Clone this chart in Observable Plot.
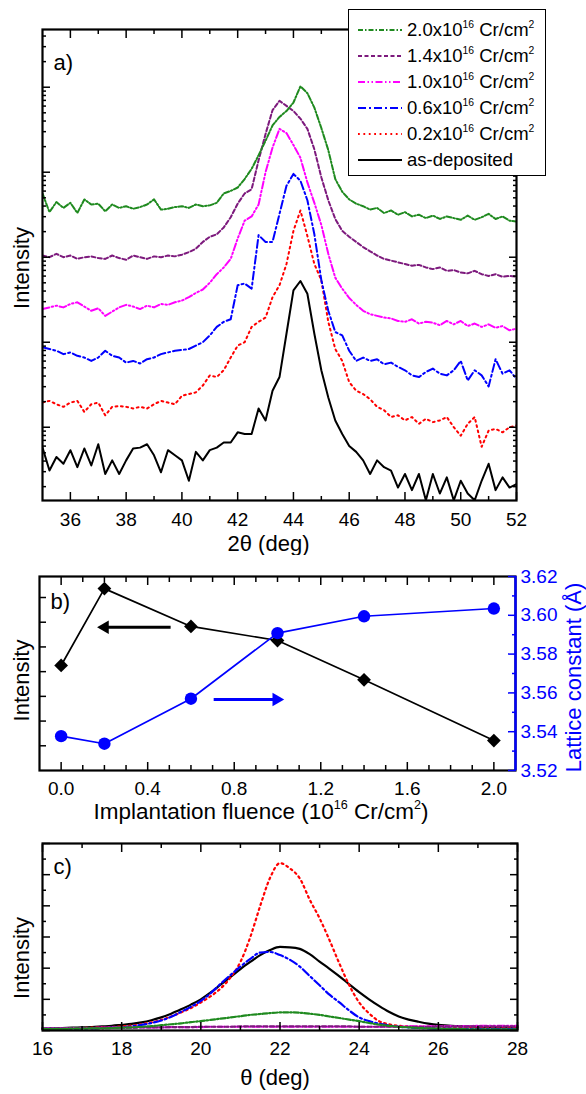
<!DOCTYPE html>
<html><head><meta charset="utf-8">
<script src="https://cdn.jsdelivr.net/npm/d3@7"></script>
<script src="https://cdn.jsdelivr.net/npm/@observablehq/plot@0.6"></script>
<style>
body{margin:0;background:#fff;}
#wrap{position:relative;width:586px;height:1094px;font-family:"Liberation Sans",Arial,Helvetica,sans-serif;color:#000;overflow:hidden;background:#fff}
.panel{position:absolute;left:0}
.legend{position:absolute;left:348px;top:9px;width:198px;height:167px;border:1.5px solid #000;background:#fff;box-sizing:border-box;z-index:4}
.lrow{position:absolute;left:0;height:20px;width:196px}
.lrow svg{position:absolute;left:9px;top:5px}
.lrow span{position:absolute;left:58px;top:0;font-size:18.5px;line-height:20px;white-space:nowrap}
sup{font-size:0.56em;vertical-align:0;position:relative;top:-0.8em}
.title{position:absolute;font-size:22.5px;line-height:1;white-space:nowrap;transform:translate(-50%,-50%);z-index:5}
</style></head><body><div id="wrap"></div>
<script>
const FONT = '"Liberation Sans", Arial, Helvetica, sans-serif';

// ---------- Panel a : XRD scans, log10(intensity) ----------
const twoTheta = [35,35.25,35.5,35.75,36,36.25,36.5,36.75,37,37.25,37.5,37.75,38,38.25,38.5,38.75,39,39.25,39.5,39.75,40,40.25,40.5,40.75,41,41.25,41.5,41.75,42,42.25,42.5,42.75,43,43.25,43.5,43.75,44,44.25,44.5,44.75,45,45.25,45.5,45.75,46,46.25,46.5,46.75,47,47.25,47.5,47.75,48,48.25,48.5,48.75,49,49.25,49.5,49.75,50,50.25,50.5,50.75,51,51.25,51.5,51.75,52];
const logI_20 = [2.75,2.53,2.65,2.58,2.64,2.52,2.68,2.62,2.63,2.54,2.62,2.58,2.60,2.57,2.59,2.62,2.68,2.56,2.57,2.59,2.60,
  2.58,2.62,2.60,2.61,2.64,2.75,2.78,2.82,2.92,3.04,3.20,3.37,3.55,3.65,3.72,3.82,4.01,3.93,3.76,3.52,
  3.26,2.92,2.77,2.68,2.63,2.60,2.56,2.58,2.52,2.55,2.50,2.53,2.48,2.50,2.46,2.49,2.45,2.48,2.46,2.44,2.49,2.44,2.47,2.51,2.45,2.48,2.43,2.42];
const logI_14 = [2.02,2.00,2.04,2.00,2.02,1.98,2.00,2.01,1.99,1.98,2.02,1.99,1.97,2.02,2.00,1.98,2.01,2.00,2.02,2.01,2.03,
  2.06,2.10,2.18,2.24,2.27,2.35,2.47,2.63,2.75,2.80,3.14,3.45,3.73,3.84,3.78,3.72,3.63,3.51,3.27,2.94,
  2.67,2.45,2.31,2.24,2.18,2.12,2.07,2.02,1.98,1.96,1.94,1.92,1.90,1.91,1.88,1.86,1.88,1.84,1.85,1.82,1.81,1.84,1.80,1.78,1.80,1.77,1.78,1.77];
const logI_10 = [1.39,1.41,1.43,1.41,1.45,1.47,1.42,1.37,1.40,1.31,1.36,1.41,1.44,1.42,1.39,1.43,1.41,1.45,1.44,1.47,1.49,
  1.53,1.58,1.62,1.70,1.80,1.88,1.98,2.22,2.43,2.48,2.62,3.00,3.29,3.51,3.46,3.32,3.17,2.88,2.64,2.38,
  2.04,1.76,1.63,1.52,1.44,1.37,1.33,1.31,1.29,1.28,1.25,1.24,1.27,1.22,1.24,1.23,1.20,1.25,1.21,1.25,1.19,1.22,1.18,1.21,1.17,1.19,1.14,1.16];
const logI_06 = [0.94,0.92,0.90,0.86,0.88,0.84,0.82,0.78,0.82,0.90,0.84,0.82,0.76,0.78,0.75,0.80,0.82,0.86,0.88,0.90,0.91,
  0.92,0.96,1.00,1.08,1.18,1.24,1.27,1.67,1.69,1.63,2.26,2.18,2.18,2.51,2.84,2.98,2.90,2.67,2.27,1.73,
  1.37,1.12,1.08,0.90,0.78,0.82,0.78,0.80,0.74,0.76,0.71,0.67,0.61,0.59,0.65,0.69,0.63,0.61,0.67,0.78,0.55,0.67,0.61,0.48,0.80,0.63,0.67,0.57];
const logI_02 = [0.29,0.31,0.27,0.24,0.29,0.31,0.18,0.27,0.29,0.14,0.24,0.25,0.24,0.22,0.24,0.22,0.27,0.31,0.29,0.27,0.37,
  0.39,0.41,0.49,0.61,0.59,0.67,0.82,0.96,1.00,1.18,1.24,1.29,1.53,1.67,1.92,2.31,2.55,2.25,1.92,1.73,
  1.24,0.92,0.78,0.53,0.43,0.39,0.33,0.24,0.20,0.12,0.14,0.08,0.12,0.04,0.10,0.06,0.08,0.12,0.00,-0.10,0.04,0.12,-0.23,-0.04,-0.02,-0.06,0.00,0.02];
const logI_asdep = [-0.24,-0.51,-0.35,-0.43,-0.27,-0.47,-0.25,-0.45,-0.20,-0.55,-0.39,-0.55,-0.39,-0.25,-0.24,-0.20,-0.33,-0.53,-0.27,-0.33,-0.39,
  -0.63,-0.29,-0.39,-0.27,-0.24,-0.18,-0.18,-0.06,-0.08,-0.08,0.22,0.08,0.43,0.59,1.10,1.61,1.72,1.57,1.10,0.67,
  0.35,0.08,-0.08,-0.22,-0.29,-0.39,-0.55,-0.39,-0.47,-0.51,-0.71,-0.55,-0.74,-0.55,-0.86,-0.55,-0.78,-0.59,-0.86,-0.63,-0.78,-0.86,-0.63,-0.43,-0.74,-0.59,-0.71,-0.67];
const aXTicks = [36,38,40,42,44,46,48,50,52];
const aXMinor = [37,39,41,43,45,47,49,51];
const aDecades = [0,1,2,3,4];
const aLogDomain = [-0.862, 4.679];

// ---------- Panel b ----------
const fluence = [0.0,0.2,0.6,1.0,1.4,2.0];
const bIntensity = [4.25,7.36,5.83,5.26,3.67,1.21];
const bLattice = [3.5377,3.5338,3.557,3.5908,3.5995,3.6035];
const bXTicks = [0.0,0.4,0.8,1.2,1.6,2.0];
const bLatTicks = [3.52,3.54,3.56,3.58,3.60,3.62];
const bLatMinor = [3.53,3.55,3.57,3.59,3.61];
const bIntTicks = [1,2,3,4,5,6,7];
const bXDomain = [-0.1, 2.1];
const bIntDomain = [0, 7.85];
const bLatDomain = [3.52, 3.62];
const bArrowLeft = {x1: 0.506, x2: 0.215, tip: 0.202, y: 5.80};
const bArrowRight = {x1: 0.705, x2: 0.985, tip: 0.995, lat: 3.5566};

// ---------- Panel c : rocking curves ----------
const theta = [16,16.25,16.5,16.75,17,17.25,17.5,17.75,18,18.25,18.5,18.75,19,19.25,19.5,19.75,20,20.25,20.5,20.75,21,21.25,21.5,21.75,22,22.25,22.5,22.75,23,23.25,23.5,23.75,24,24.25,24.5,24.75,25,25.25,25.5,25.75,26,26.25,26.5,26.75,27,27.25,27.5,27.75,28];
const rc_02 = [0.06,0.06,0.07,0.07,0.08,0.09,0.10,0.11,0.13,0.16,0.20,0.26,0.34,0.45,0.58,0.72,0.90,1.10,1.35,1.70,2.20,3.00,4.00,4.90,5.37,5.20,4.88,4.20,3.60,2.90,2.15,1.45,0.90,0.55,0.30,0.20,0.15,0.13,0.12,0.12,0.12,0.11,0.11,0.11,0.10,0.10,0.10,0.10,0.10];
const rc_asdep = [0.07,0.07,0.08,0.09,0.10,0.11,0.13,0.15,0.18,0.21,0.26,0.33,0.42,0.54,0.68,0.83,1.00,1.22,1.47,1.72,1.97,2.20,2.42,2.58,2.68,2.67,2.62,2.45,2.21,1.98,1.74,1.48,1.23,1.00,0.79,0.60,0.45,0.35,0.28,0.22,0.18,0.16,0.14,0.13,0.12,0.11,0.10,0.10,0.09];
const rc_06 = [0.06,0.06,0.06,0.06,0.07,0.07,0.08,0.09,0.10,0.13,0.18,0.24,0.32,0.44,0.60,0.76,0.95,1.20,1.50,1.78,2.05,2.30,2.50,2.52,2.42,2.27,2.05,1.75,1.45,1.15,0.90,0.64,0.42,0.30,0.22,0.16,0.12,0.10,0.08,0.07,0.06,0.06,0.05,0.05,0.05,0.05,0.05,0.05,0.05];
const rc_20 = [0.05,0.05,0.05,0.06,0.06,0.07,0.07,0.08,0.09,0.10,0.12,0.14,0.17,0.20,0.23,0.27,0.30,0.34,0.38,0.42,0.46,0.50,0.53,0.56,0.58,0.58,0.57,0.54,0.50,0.45,0.40,0.35,0.30,0.24,0.19,0.15,0.12,0.10,0.08,0.07,0.06,0.05,0.05,0.04,0.04,0.04,0.04,0.04,0.04];
const rc_10 = [0.07,0.07,0.07,0.08,0.08,0.08,0.09,0.09,0.09,0.10,0.10,0.10,0.10,0.11,0.11,0.11,0.11,0.12,0.12,0.12,0.12,0.12,0.12,0.12,0.12,0.12,0.12,0.12,0.12,0.12,0.12,0.12,0.12,0.12,0.12,0.12,0.12,0.13,0.13,0.13,0.14,0.14,0.14,0.14,0.15,0.15,0.15,0.15,0.15];
const rc_14 = [0.06,0.06,0.07,0.07,0.08,0.08,0.08,0.09,0.09,0.09,0.10,0.10,0.10,0.11,0.11,0.11,0.12,0.12,0.12,0.12,0.13,0.13,0.13,0.13,0.13,0.13,0.13,0.13,0.13,0.13,0.13,0.13,0.12,0.12,0.12,0.12,0.12,0.12,0.12,0.12,0.13,0.13,0.13,0.13,0.13,0.13,0.13,0.13,0.13];
const cXTicks = [16,18,20,22,24,26,28];
const cXMinor = [17,19,21,23,25,27];
const cYTicks = [0,1,2,3,4,5,6];
const cYMinor = [0.5,1.5,2.5,3.5,4.5,5.5];
const cYDomain = [0, 6];

// ---------- series styling ----------
const seriesStyle = [
  {key:"2.0", a: logI_20, c: rc_20, color:"#1f8a1f", dash:"5,2,1.5,2"},
  {key:"1.4", a: logI_14, c: rc_14, color:"#7d1a7d", dash:"4,2.5"},
  {key:"1.0", a: logI_10, c: rc_10, color:"#ff00ff", dash:"7,2.5,1.5,2.5,1.5,2.5"},
  {key:"0.6", a: logI_06, c: rc_06, color:"#0000ff", dash:"8,3,2,3"},
  {key:"0.2", a: logI_02, c: rc_02, color:"#ff0000", dash:"1.8,3.6"},
  {key:"as-deposited", a: logI_asdep, c: rc_asdep, color:"#000000", dash:null}
];
seriesStyle.forEach(s => { if (s.a.length !== twoTheta.length || s.c.length !== theta.length) console.error("length mismatch", s.key, s.a.length, s.c.length); });

const wrap = document.getElementById("wrap");
function place(svg, top) { const d = document.createElement("div"); d.className = "panel"; d.style.top = top + "px"; d.appendChild(svg); wrap.appendChild(d); }
const blank = () => "";
const TW = 1.5;
const TICKFS = 19;
const TITLEFS = 22;

// ===== Panel a =====
{
  const yLo = 10 ** aLogDomain[0], yHi = 10 ** aLogDomain[1];
  const majorY = aDecades.map(n => 10 ** n);
  const minorY = d3.range(-1, 5).flatMap(n => d3.range(2, 10).map(k => k * 10 ** n)).filter(v => v > yLo && v < yHi);
  const lines = seriesStyle.slice().reverse().map(s =>
    Plot.line(s.a.map((d, i) => ({x: twoTheta[i], y: 10 ** d})), {x: "x", y: "y", stroke: s.color, strokeWidth: 2, strokeDasharray: s.dash, clip: true}));
  const svg = Plot.plot({
    width: 586, height: 555, marginLeft: 42, marginRight: 70, marginTop: 29, marginBottom: 55,
    style: {fontFamily: FONT, background: "transparent", color: "black"},
    x: {domain: [35, 52], label: null},
    y: {type: "log", domain: [yLo, yHi], label: null},
    marks: [
      ...lines,
      Plot.axisX(aXTicks, {anchor: "bottom", tickSize: 0, tickPadding: 12, fontSize: TICKFS, label: null}),
      Plot.axisX(aXTicks, {anchor: "bottom", tickSize: -8, tickFormat: blank, label: null, strokeWidth: TW}),
      Plot.axisX(aXMinor, {anchor: "bottom", tickSize: -4, tickFormat: blank, label: null, strokeWidth: TW}),
      Plot.axisX(aXTicks, {anchor: "top", tickSize: -8, tickFormat: blank, label: null, strokeWidth: TW}),
      Plot.axisX(aXMinor, {anchor: "top", tickSize: -4, tickFormat: blank, label: null, strokeWidth: TW}),
      Plot.axisY(majorY, {anchor: "left", tickSize: -8, tickFormat: blank, label: null, strokeWidth: TW}),
      Plot.axisY(minorY, {anchor: "left", tickSize: -4, tickFormat: blank, label: null, strokeWidth: TW}),
      Plot.axisY(majorY, {anchor: "right", tickSize: -8, tickFormat: blank, label: null, strokeWidth: TW}),
      Plot.axisY(minorY, {anchor: "right", tickSize: -4, tickFormat: blank, label: null, strokeWidth: TW}),
      Plot.frame({stroke: "black", strokeWidth: 2.2}),
      Plot.text(["a)"], {frameAnchor: "top-left", dx: 11, dy: 33, textAnchor: "start", lineAnchor: "middle", fontSize: TITLEFS}),
      Plot.text(["2θ (deg)"], {frameAnchor: "bottom", dx: -11, dy: 43, lineAnchor: "middle", fontSize: TITLEFS}),
      Plot.text(["Intensity"], {frameAnchor: "left", dx: -21, dy: 3, rotate: -90, textAnchor: "middle", lineAnchor: "middle", fontSize: TITLEFS})
    ]
  });
  place(svg, 0);
}

// legend for panel a
{
  const lg = document.createElement("div"); lg.className = "legend";
  const rowCenters = [20, 46, 72, 98, 124, 150];
  seriesStyle.forEach((s, i) => {
    const r = document.createElement("div"); r.className = "lrow"; r.style.top = (rowCenters[i] - 10) + "px";
    const label = s.key === "as-deposited" ? "as-deposited" : `${s.key}x10<sup>16</sup> Cr/cm<sup>2</sup>`;
    r.innerHTML = `<svg width="44" height="10"><line x1="0" y1="5" x2="44" y2="5" stroke="${s.color}" stroke-width="2" ${s.dash ? `stroke-dasharray="${s.dash}"` : ""}/></svg><span>${label}</span>`;
    lg.appendChild(r);
  });
  wrap.appendChild(lg);
}

// ===== Panel b =====
{
  const blue = "#0000ff";
  const toY = L => (L - bLatDomain[0]) / (bLatDomain[1] - bLatDomain[0]) * bIntDomain[1];
  const fromY = y => bLatDomain[0] + y / bIntDomain[1] * (bLatDomain[1] - bLatDomain[0]);
  const rows = fluence.map((f, i) => ({f, I: bIntensity[i], L: toY(bLattice[i])}));
  const xMinor = d3.range(0, 21).map(i => i / 10).filter(v => !bXTicks.some(t => Math.abs(t - v) < 1e-9));
  const svg = Plot.plot({
    width: 586, height: 265, marginLeft: 39, marginRight: 71, marginTop: 21, marginBottom: 50,
    style: {fontFamily: FONT, background: "transparent", color: "black", overflow: "visible"},
    x: {domain: bXDomain, label: null},
    y: {domain: bIntDomain, label: null},
    marks: [
      Plot.line(rows, {x: "f", y: "I", stroke: "black", strokeWidth: 1.7}),
      Plot.dot(rows, {x: "f", y: "I", symbol: "diamond2", r: 6.2, fill: "black"}),
      Plot.line(rows, {x: "f", y: "L", stroke: blue, strokeWidth: 1.7}),
      Plot.dot(rows, {x: "f", y: "L", r: 6.2, fill: blue}),
      Plot.link([bArrowLeft], {x1: "x1", x2: "x2", y1: "y", y2: "y", stroke: "black", strokeWidth: 3}),
      Plot.dot([bArrowLeft], {x: "tip", y: "y", symbol: "triangle", r: 5, rotate: -90, fill: "black"}),
      Plot.link([bArrowRight], {x1: "x1", x2: "x2", y1: d => toY(d.lat), y2: d => toY(d.lat), stroke: blue, strokeWidth: 3}),
      Plot.dot([bArrowRight], {x: "tip", y: d => toY(d.lat), symbol: "triangle", r: 5, rotate: 90, fill: blue}),
      Plot.axisX(bXTicks, {anchor: "bottom", tickSize: 0, tickPadding: 11, fontSize: TICKFS, tickFormat: d3.format(".1f"), label: null}),
      Plot.axisX(bXTicks, {anchor: "bottom", tickSize: -8, tickFormat: blank, label: null, strokeWidth: TW}),
      Plot.axisX(xMinor, {anchor: "bottom", tickSize: -5, tickFormat: blank, label: null, strokeWidth: TW}),
      Plot.axisX(bXTicks, {anchor: "top", tickSize: -8, tickFormat: blank, label: null, strokeWidth: TW}),
      Plot.axisX(xMinor, {anchor: "top", tickSize: -5, tickFormat: blank, label: null, strokeWidth: TW}),
      Plot.axisY(bIntTicks, {anchor: "left", tickSize: -7, tickFormat: blank, label: null, strokeWidth: TW}),
      Plot.frame({stroke: "black", strokeWidth: 2.2}),
      Plot.ruleX([bXDomain[1]], {stroke: blue, strokeWidth: 2.4}),
      Plot.axisY(bLatTicks.map(toY), {anchor: "right", tickSize: -8, tickFormat: blank, label: null, strokeWidth: TW, color: blue}),
      Plot.axisY(bLatMinor.map(toY), {anchor: "right", tickSize: -4, tickFormat: blank, label: null, strokeWidth: TW, color: blue}),
      Plot.axisY(bLatTicks.map(toY), {anchor: "right", tickSize: 0, tickPadding: 5, fontSize: TICKFS, tickFormat: y => fromY(y).toFixed(2), label: null, color: blue}),
      Plot.text(["Lattice constant (Å)"], {frameAnchor: "right", dx: 58, dy: 4, rotate: -90, textAnchor: "middle", lineAnchor: "middle", fontSize: 22, fill: blue}),
      Plot.text(["b)"], {frameAnchor: "top-left", dx: 11, dy: 25, textAnchor: "start", lineAnchor: "middle", fontSize: TITLEFS}),
      Plot.text(["Intensity"], {frameAnchor: "left", dx: -18, dy: 7, rotate: -90, textAnchor: "middle", lineAnchor: "middle", fontSize: TITLEFS})
    ]
  });
  place(svg, 555);
  const t = document.createElement("div"); t.className = "title"; t.style.left = "261px"; t.style.top = "812px";
  t.innerHTML = "Implantation fluence (10<sup>16</sup> Cr/cm<sup>2</sup>)";
  wrap.appendChild(t);
}

// ===== Panel c =====
{
  const lines = seriesStyle.slice().reverse().map(s =>
    Plot.line(s.c.map((v, i) => ({x: theta[i], y: v})), {x: "x", y: "y", stroke: s.color, strokeWidth: 2.2, strokeDasharray: s.dash, curve: "monotone-x"}));
  const svg = Plot.plot({
    width: 586, height: 274, marginLeft: 42, marginRight: 69, marginTop: 23, marginBottom: 64,
    style: {fontFamily: FONT, background: "transparent", color: "black"},
    x: {domain: [16, 28], label: null},
    y: {domain: cYDomain, label: null},
    marks: [
      ...lines,
      Plot.axisX(cXTicks, {anchor: "bottom", tickSize: 0, tickPadding: 11, fontSize: TICKFS, label: null}),
      Plot.axisX(cXTicks, {anchor: "bottom", tickSize: -8, tickFormat: blank, label: null, strokeWidth: TW}),
      Plot.axisX(cXMinor, {anchor: "bottom", tickSize: -4, tickFormat: blank, label: null, strokeWidth: TW}),
      Plot.axisX(cXTicks, {anchor: "top", tickSize: -8, tickFormat: blank, label: null, strokeWidth: TW}),
      Plot.axisX(cXMinor, {anchor: "top", tickSize: -4, tickFormat: blank, label: null, strokeWidth: TW}),
      Plot.axisY(cYTicks, {anchor: "left", tickSize: -8, tickFormat: blank, label: null, strokeWidth: TW}),
      Plot.axisY(cYMinor, {anchor: "left", tickSize: -4, tickFormat: blank, label: null, strokeWidth: TW}),
      Plot.axisY(cYTicks, {anchor: "right", tickSize: -8, tickFormat: blank, label: null, strokeWidth: TW}),
      Plot.axisY(cYMinor, {anchor: "right", tickSize: -4, tickFormat: blank, label: null, strokeWidth: TW}),
      Plot.frame({stroke: "black", strokeWidth: 2.2}),
      Plot.text(["c)"], {frameAnchor: "top-left", dx: 11, dy: 23, textAnchor: "start", lineAnchor: "middle", fontSize: TITLEFS}),
      Plot.text(["θ (deg)"], {frameAnchor: "bottom", dx: -5, dy: 47, lineAnchor: "middle", fontSize: TITLEFS}),
      Plot.text(["Intensity"], {frameAnchor: "left", dx: -21, dy: 21, rotate: -90, textAnchor: "middle", lineAnchor: "middle", fontSize: TITLEFS})
    ]
  });
  place(svg, 820);
}
</script></body></html>
